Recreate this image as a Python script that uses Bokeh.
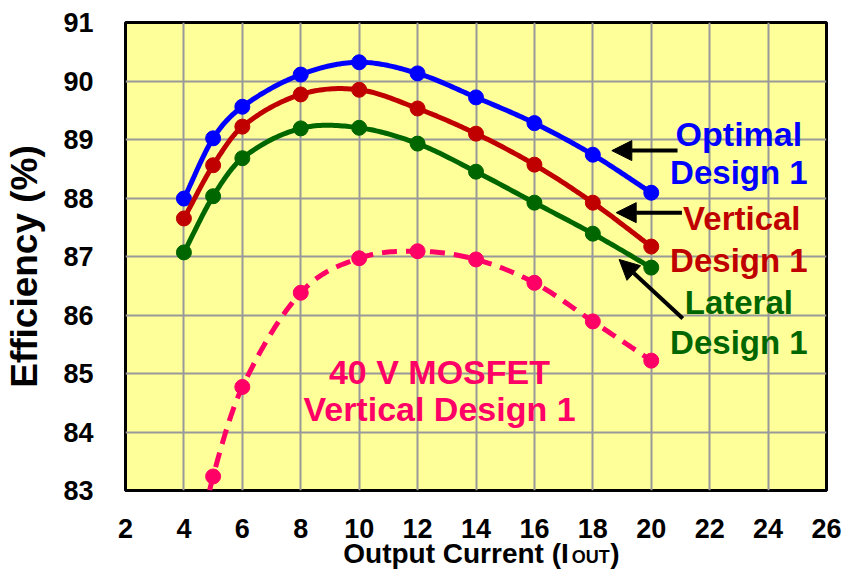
import numpy as np
from bokeh.plotting import figure
from bokeh.models import Label, Arrow, NormalHead, FixedTicker, Range1d, LinearAxis
from bokeh.embed import file_html
from bokeh.resources import INLINE

# ---- data ----
x_main = [4, 5, 6, 8, 10, 12, 14, 16, 18, 20]
optimal = [87.99, 89.02, 89.56, 90.11, 90.32, 90.13, 89.72, 89.28, 88.74, 88.09]
vertical = [87.65, 88.56, 89.22, 89.77, 89.85, 89.53, 89.10, 88.57, 87.92, 87.17]
lateral = [87.07, 88.03, 88.68, 89.19, 89.20, 88.93, 88.45, 87.92, 87.39, 86.81]
x_mos = [4, 5, 6, 8, 10, 12, 14, 16, 18, 20]
mosfet40 = [81.0, 83.24, 84.77, 86.38, 86.97, 87.09, 86.95, 86.55, 85.89, 85.22]
x_ticks = list(range(2, 27, 2))
y_ticks = list(range(83, 92))

BLUE = "#0000FF"
RED = "#C00000"
GREEN = "#006600"
PINK = "#FF0066"
FONT = "Liberation Sans"


def smooth(xs, ys, n=24):
    xs = np.asarray(xs, float)
    ys = np.asarray(ys, float)
    k = len(xs)
    m = np.zeros(k)
    for i in range(k):
        if i == 0:
            m[i] = (ys[1] - ys[0]) / (xs[1] - xs[0])
        elif i == k - 1:
            m[i] = (ys[-1] - ys[-2]) / (xs[-1] - xs[-2])
        else:
            m[i] = (ys[i + 1] - ys[i - 1]) / (xs[i + 1] - xs[i - 1])
    ox, oy = [], []
    for i in range(k - 1):
        h = xs[i + 1] - xs[i]
        t = np.linspace(0, 1, n, endpoint=False)
        h00 = 2 * t**3 - 3 * t**2 + 1
        h10 = t**3 - 2 * t**2 + t
        h01 = -2 * t**3 + 3 * t**2
        h11 = t**3 - t**2
        ox.extend(xs[i] + t * h)
        oy.extend(h00 * ys[i] + h10 * h * m[i] + h01 * ys[i + 1] + h11 * h * m[i + 1])
    ox.append(xs[-1])
    oy.append(ys[-1])
    return ox, oy


W = 847
H = 571
FL, FR, FT, FB = 124, 826, 22, 490  # frame edges in page pixels

p = figure(width=W, height=H, output_backend="svg", toolbar_location=None,
           x_range=Range1d(2, 26), y_range=Range1d(83, 91),
           min_border_left=FL, min_border_right=W - FR, min_border_top=FT,
           min_border_bottom=H - FB)

p.background_fill_color = "#FFFF99"
p.border_fill_color = "white"
p.outline_line_color = "black"
p.outline_line_width = 3

p.xaxis.ticker = FixedTicker(ticks=x_ticks)
p.yaxis.ticker = FixedTicker(ticks=y_ticks)
for ax in (p.xaxis[0], p.yaxis[0]):
    ax.axis_line_color = None
    ax.major_tick_line_color = None
    ax.minor_tick_line_color = None
    ax.major_label_text_font = FONT
    ax.major_label_text_font_style = "bold"
    ax.major_label_text_font_size = "27px"
    ax.major_label_text_color = "black"
p.xaxis[0].major_label_standoff = 22
p.yaxis[0].major_label_standoff = 26

p.xgrid.grid_line_color = "#999999"
p.ygrid.grid_line_color = "#999999"
p.xgrid.grid_line_width = 2
p.ygrid.grid_line_width = 2

# curves
for ys, col in ((optimal, BLUE), (vertical, RED), (lateral, GREEN)):
    sx, sy = smooth(x_main, ys)
    p.line(sx, sy, line_color=col, line_width=5)
    p.scatter(x_main, ys, size=15, fill_color=col, line_color=col)

sx, sy = smooth(x_mos, mosfet40)
p.line(sx, sy, line_color=PINK, line_width=5, line_dash="15 9")
p.scatter(x_mos[1:], mosfet40[1:], size=15, fill_color=PINK, line_color=PINK)


# series labels
def lab(x, y, t, col, size="33px"):
    p.add_layout(Label(x=x, y=y, text=t, text_color=col, text_font=FONT,
                       text_font_style="bold", text_font_size=size,
                       text_align="center", text_baseline="middle"))


lab(23.0, 89.10, "Optimal", BLUE, "34px")
lab(23.0, 88.44, "Design 1", BLUE)
lab(23.1, 87.65, "Vertical", RED)
lab(23.0, 86.93, "Design 1", RED)
lab(23.0, 86.21, "Lateral", GREEN)
lab(23.0, 85.53, "Design 1", GREEN)
lab(12.75, 85.02, "40 V MOSFET", PINK, "34px")
lab(12.75, 84.40, "Vertical Design 1", PINK, "34px")

# arrows
for xs_, ys_, xe, ye in ((20.9, 88.81, 18.65, 88.81),
                         (21.05, 87.75, 18.8, 87.75),
                         (21.08, 85.94, 18.9, 86.95)):
    p.add_layout(Arrow(x_start=xs_, y_start=ys_, x_end=xe, y_end=ye, line_width=4,
                       line_color="black",
                       end=NormalHead(size=20, fill_color="black", line_color="black")))

# axis titles drawn as label rows of extra axes on pixel ranges
p.extra_x_ranges = {"px": Range1d(FL, FR)}
p.extra_y_ranges = {"py": Range1d(FB, FT)}


def title_axis(labels, size, standoff, side):
    kw = dict(ticker=FixedTicker(ticks=list(labels.keys())),
              major_label_overrides=labels, major_label_standoff=standoff,
              axis_line_color=None, major_tick_line_color=None,
              minor_tick_line_color=None, major_tick_in=0, major_tick_out=0,
              major_label_text_font=FONT, major_label_text_font_style="bold",
              major_label_text_font_size=size, major_label_text_color="black")
    if side == "below":
        ax = LinearAxis(x_range_name="px", **kw)
    else:
        ax = LinearAxis(y_range_name="py", major_label_orientation="vertical", **kw)
    p.add_layout(ax, side)


# x title: "Output Current (I" + subscript "OUT" + ")"
title_axis({455: "Output Current (I", 614: ")"}, "28px", -3, "below")
title_axis({590: "OUT"}, "18px", -25, "below")
# y title
title_axis({266: "Efficiency (%)"}, "37px", 16, "left")

open("out.html", "w").write(file_html(p, INLINE))
